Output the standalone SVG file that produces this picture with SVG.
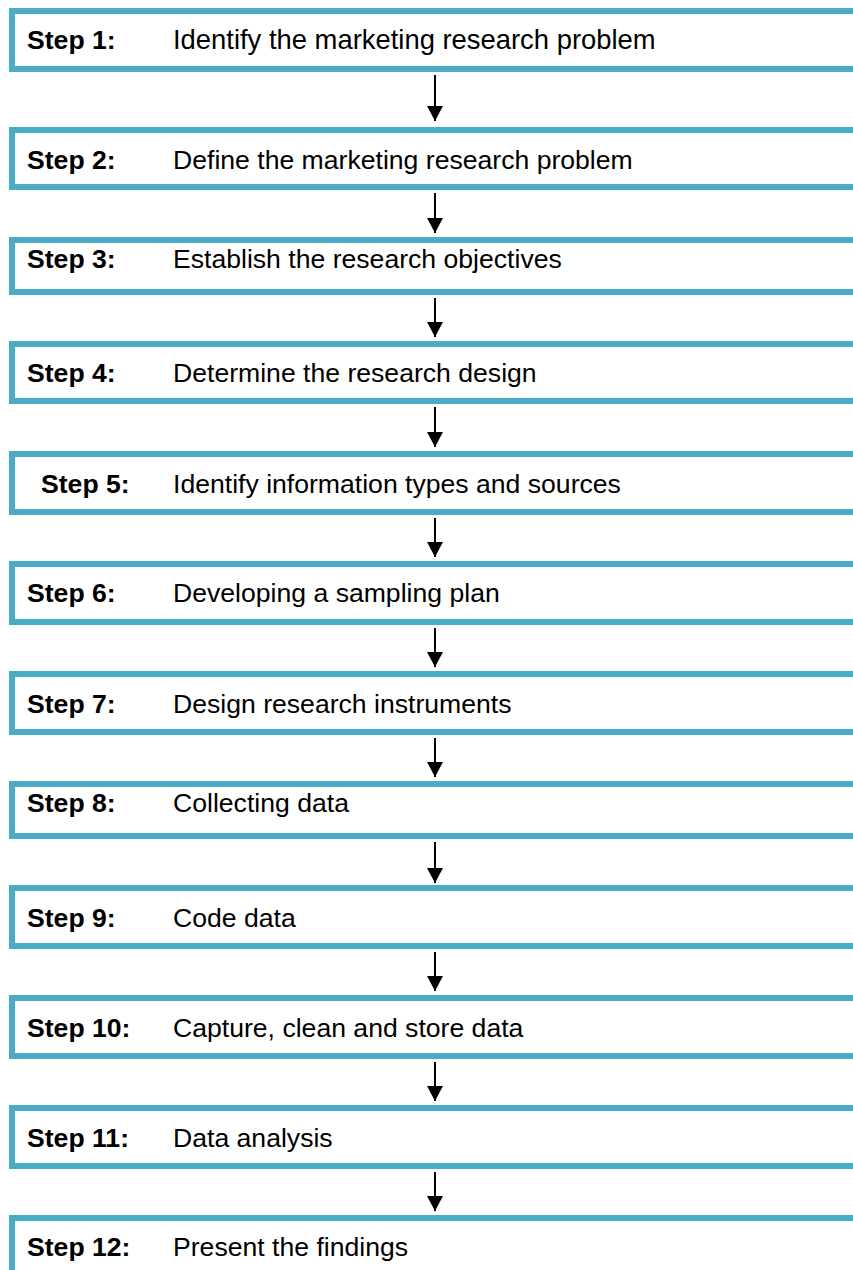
<svg xmlns="http://www.w3.org/2000/svg" width="853" height="1270" viewBox="0 0 853 1270">
<style>
.box{fill:#fff;stroke:#4BACC6;stroke-width:6}
.t{font-family:"Liberation Sans",Arial,sans-serif;font-size:26.6px;fill:#000}
.b{font-weight:bold}
.c{stroke:#000;stroke-width:2;fill:none}
</style>
<defs>
<marker id="ah" markerUnits="userSpaceOnUse" markerWidth="16" markerHeight="16" refX="15" refY="8" orient="auto">
<path d="M0,0 L15,8 L0,16 Z" fill="#000"/>
</marker>
</defs>
<rect width="853" height="1270" fill="#fff"/>
<g id="connectors">
<line class="c" x1="435" y1="75" x2="435" y2="121" marker-end="url(#ah)"/>
<line class="c" x1="435" y1="193" x2="435" y2="233" marker-end="url(#ah)"/>
<line class="c" x1="435" y1="298" x2="435" y2="337" marker-end="url(#ah)"/>
<line class="c" x1="435" y1="407" x2="435" y2="447" marker-end="url(#ah)"/>
<line class="c" x1="435" y1="518" x2="435" y2="557" marker-end="url(#ah)"/>
<line class="c" x1="435" y1="628" x2="435" y2="667" marker-end="url(#ah)"/>
<line class="c" x1="435" y1="738" x2="435" y2="777" marker-end="url(#ah)"/>
<line class="c" x1="435" y1="842" x2="435" y2="883" marker-end="url(#ah)"/>
<line class="c" x1="435" y1="952" x2="435" y2="991" marker-end="url(#ah)"/>
<line class="c" x1="435" y1="1062" x2="435" y2="1101" marker-end="url(#ah)"/>
<line class="c" x1="435" y1="1172" x2="435" y2="1211" marker-end="url(#ah)"/>
</g>
<g id="step1"><rect class="box" x="12" y="11" width="900" height="58"/><text class="t b" x="27" y="49">Step 1:</text><text class="t" x="173" y="49" style="font-size:27.4px">Identify the marketing research problem</text></g>
<g id="step2"><rect class="box" x="12" y="130" width="900" height="57"/><text class="t b" x="27" y="169">Step 2:</text><text class="t" x="173" y="169">Define the marketing research problem</text></g>
<g id="step3"><rect class="box" x="12" y="240" width="900" height="52"/><text class="t b" x="27" y="268">Step 3:</text><text class="t" x="173" y="268">Establish the research objectives</text></g>
<g id="step4"><rect class="box" x="12" y="344" width="900" height="57"/><text class="t b" x="27" y="382">Step 4:</text><text class="t" x="173" y="382">Determine the research design</text></g>
<g id="step5"><rect class="box" x="12" y="454" width="900" height="58"/><text class="t b" x="41" y="493">Step 5:</text><text class="t" x="173" y="493">Identify information types and sources</text></g>
<g id="step6"><rect class="box" x="12" y="564" width="900" height="58"/><text class="t b" x="27" y="602">Step 6:</text><text class="t" x="173" y="602">Developing a sampling plan</text></g>
<g id="step7"><rect class="box" x="12" y="674" width="900" height="58"/><text class="t b" x="27" y="713">Step 7:</text><text class="t" x="173" y="713">Design research instruments</text></g>
<g id="step8"><rect class="box" x="12" y="784" width="900" height="52"/><text class="t b" x="27" y="812">Step 8:</text><text class="t" x="173" y="812">Collecting data</text></g>
<g id="step9"><rect class="box" x="12" y="888" width="900" height="58"/><text class="t b" x="27" y="927">Step 9:</text><text class="t" x="173" y="927">Code data</text></g>
<g id="step10"><rect class="box" x="12" y="998" width="900" height="58"/><text class="t b" x="27" y="1037">Step 10:</text><text class="t" x="173" y="1037">Capture, clean and store data</text></g>
<g id="step11"><rect class="box" x="12" y="1108" width="900" height="58"/><text class="t b" x="27" y="1147">Step 11:</text><text class="t" x="173" y="1147">Data analysis</text></g>
<g id="step12"><rect class="box" x="12" y="1218" width="900" height="80"/><text class="t b" x="27" y="1256">Step 12:</text><text class="t" x="173" y="1256">Present the findings</text></g>
</svg>
